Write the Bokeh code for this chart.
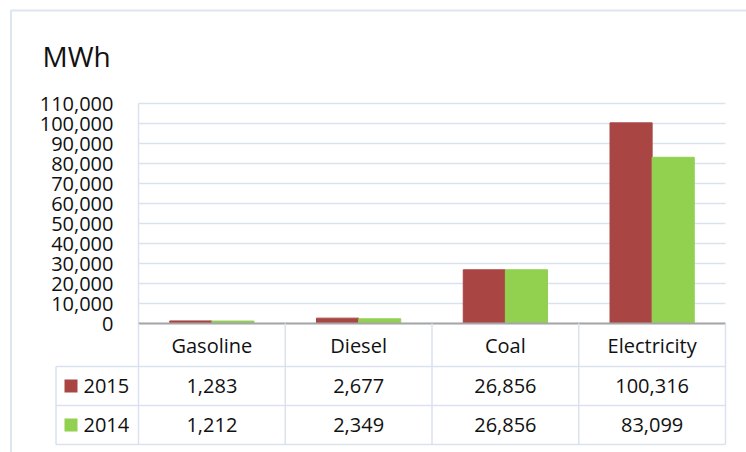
from bokeh.plotting import figure
from bokeh.models import (Range1d, FixedTicker, NumeralTickFormatter, LinearScale,
                          ColumnDataSource)
from bokeh.transform import dodge
from bokeh.core.properties import value
from bokeh.embed import file_html
from bokeh.resources import INLINE

# ---------------- data ----------------
categories = ["Gasoline", "Diesel", "Coal", "Electricity"]
series_names = ["2015", "2014"]
values_2015 = [1283, 2677, 26856, 100316]
values_2014 = [1212, 2349, 26856, 83099]
y_ticks = [0, 10000, 20000, 30000, 40000, 50000, 60000, 70000, 80000, 90000, 100000, 110000]
unit_label = "MWh"

# ---------------- style / layout (pixel geometry) ----------------
colors = ["#A94643", "#92D050"]
FONT = "Open Sans"
GRID = "#d9e2ee"
BORDER = "#dde5f0"
TEXT = "#111111"
W, H = 746, 452
FL, FR, FT, FB = 8, 746, 8, 452     # frame edges
X0_PX, CAT_PX = 138, 146.75         # left edge of plot area, px per category
Y0_PX, PX_PER_TICK = 323, 20        # px of value 0, px between gridlines
TB_PX, ROW_PX = 444, 39             # table bottom, table row height
BAR_W = 0.287
n = len(categories)
pos = [i + 0.5 for i in range(n)]   # category centres
val_per_px = (y_ticks[1] - y_ticks[0]) / PX_PER_TICK


def px_x(px):
    return (px - X0_PX) / CAT_PX


def px_y(px):
    return (Y0_PX - px) * val_per_px


def px_t(px):
    return -0.5 + (TB_PX - px) / ROW_PX


p = figure(width=W, height=H,
           x_range=Range1d(px_x(FL), px_x(FR)),
           y_range=Range1d(px_y(FB), px_y(FT)),
           x_axis_location=None,
           min_border_left=FL, min_border_right=W - FR,
           min_border_top=FT, min_border_bottom=H - FB,
           output_backend="svg", toolbar_location=None)
p.extra_y_ranges = {"tbl": Range1d(px_t(FB), px_t(FT))}
p.extra_y_scales = {"tbl": LinearScale()}
p.outline_line_color = None
p.xgrid.visible = False
p.ygrid.visible = False

# y axis: labels sit just left of the plot area
p.yaxis.ticker = FixedTicker(ticks=y_ticks)
p.yaxis.formatter = NumeralTickFormatter(format="0,0")
p.yaxis.major_label_text_font = FONT
p.yaxis.major_label_text_font_size = "20px"
p.yaxis.major_label_text_color = TEXT
p.yaxis.major_tick_line_color = None
p.yaxis.minor_tick_line_color = None
p.yaxis.major_tick_out = 0
p.yaxis.major_tick_in = 0
p.yaxis.axis_line_color = None
p.yaxis.major_label_standoff = -(113 - FL)

# outer frame of the chart object
p.segment(x0=[px_x(10.5), px_x(10)], y0=[px_y(10), px_y(10)],
          x1=[px_x(10.5), px_x(FR)], y1=[px_y(FB), px_y(10)],
          line_color=BORDER, line_width=2)

# gridlines and plot-area edge
p.segment(x0=[0] * len(y_ticks), y0=y_ticks, x1=[n] * len(y_ticks), y1=y_ticks,
          line_color=GRID, line_width=1.5)
p.segment(x0=[0], y0=[0], x1=[0], y1=[y_ticks[-1]], line_color=GRID, line_width=1.5)

# ---- bars ----
src = ColumnDataSource(dict(pos=pos, v2015=values_2015, v2014=values_2014))
p.vbar(x=dodge("pos", -BAR_W / 2), top="v2015", width=BAR_W,
       source=src, fill_color=colors[0], line_color=colors[0])
p.vbar(x=dodge("pos", BAR_W / 2), top="v2014", width=BAR_W,
       source=src, fill_color=colors[1], line_color=colors[1])
p.segment(x0=[0], y0=[0], x1=[n], y1=[0], line_color="#a6a6a6", line_width=2)

# ---- data table ----
hdr_top = px_t(Y0_PX)
x_leg = px_x(55.5)
bounds = list(range(n + 1))
p.segment(x0=bounds, y0=[-0.5] * (n + 1), x1=bounds, y1=[hdr_top] * (n + 1),
          y_range_name="tbl", line_color=GRID, line_width=1.5)
rows_lines = [-0.5, 0.5, 1.5]
p.segment(x0=[x_leg] * 3, y0=rows_lines, x1=[n] * 3, y1=rows_lines,
          y_range_name="tbl", line_color=GRID, line_width=1.5)
p.segment(x0=[x_leg], y0=[-0.5], x1=[x_leg], y1=[1.5],
          y_range_name="tbl", line_color=GRID, line_width=1.5)

p.text(x=pos, y=[2.05] * n, text=categories, y_range_name="tbl",
       text_align="center", text_baseline="middle",
       text_font=value(FONT), text_font_size="20px", text_color=TEXT)
for row, vals in zip([1, 0], [values_2015, values_2014]):
    p.text(x=pos, y=[row] * n, text=[f"{v:,}" for v in vals], y_range_name="tbl",
           text_align="center", text_baseline="middle",
           text_font=value(FONT), text_font_size="20px", text_color=TEXT)

# legend keys of the table
p.scatter(x=[px_x(70.5)] * 2, y=[1, 0], y_range_name="tbl", marker="square", size=13,
          fill_color=colors, line_color=None)
p.text(x=[px_x(83)] * 2, y=[1, 0], text=series_names, y_range_name="tbl",
       text_align="left", text_baseline="middle",
       text_font=value(FONT), text_font_size="20px", text_color=TEXT)

# unit label
p.text(x=[px_x(42)], y=[px_y(55)], text=[unit_label], text_align="left",
       text_baseline="alphabetic", text_font=value(FONT), text_font_size="28px",
       text_color=TEXT)

open("out.html", "w").write(file_html(p, INLINE))
